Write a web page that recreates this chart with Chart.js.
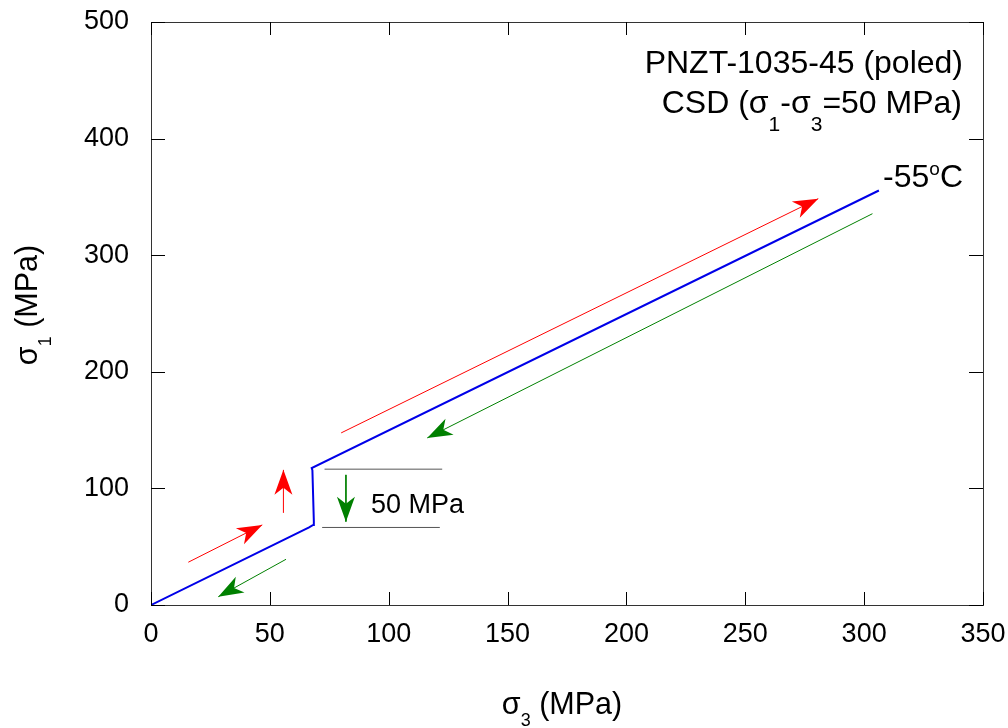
<!DOCTYPE html>
<html>
<head>
<meta charset="utf-8">
<script src="https://cdn.jsdelivr.net/npm/chart.js@4.4.1/dist/chart.umd.min.js"></script>
<style>
  html, body { margin: 0; padding: 0; background: #fff; }
  #wrap { width: 1008px; height: 728px; position: relative; }
</style>
</head>
<body>
<div id="wrap"><canvas id="plot"></canvas></div>
<script>
// stress path at -55C: sigma3 vs sigma1 (MPa)
const sigma3 = [0, 66.5, 68.2, 68.5, 67.9, 67.6, 306.2];
const sigma1 = [0, 66.5, 68.6, 72.0, 115.5, 117.5, 355.5];

const xTicks = [0, 50, 100, 150, 200, 250, 300, 350];
const yTicks = [0, 100, 200, 300, 400, 500];

// direction arrows [x0, y0, x1, y1], head sits at (x1, y1)
const loadArrows = [
  [15.7, 36.7, 46.8, 68.7],
  [80.0, 147.6, 280.7, 348.5],
  [55.7, 79.0, 55.7, 115.9]
];
const unloadArrows = [
  [56.8, 39.2, 28.3, 7.1],
  [303.5, 335.6, 116.2, 143.3],
  [82.0, 111.6, 82.0, 71.5]
];

// 50 MPa step marker lines
const stepTop = [73, 116.5, 122.5, 116.5];
const stepBottom = [72, 66.5, 121.5, 66.5];

const FONT = "'Liberation Sans', Arial, sans-serif";

function seg(a) {
  return [{ x: a[0], y: a[1] }, { x: a[2], y: a[3] }];
}

const datasets = [];
datasets.push({
  data: sigma3.map((x, i) => ({ x: x, y: sigma1[i] })),
  borderColor: '#0000e8',
  borderWidth: 2,
});
[stepTop, stepBottom].forEach(s => datasets.push({
  data: seg(s), borderColor: '#555', borderWidth: 1
}));
loadArrows.forEach(a => datasets.push({
  data: seg(a), borderColor: '#ff0000', borderWidth: 1, arrowHead: '#ff0000'
}));
unloadArrows.forEach(a => datasets.push({
  data: seg(a), borderColor: '#008000', borderWidth: 1, arrowHead: '#008000'
}));

// text runs with sub/superscripts: [text, size, dy]
function runWidth(ctx, parts) {
  let w = 0;
  parts.forEach(p => { ctx.font = p[1] + 'px ' + FONT; w += ctx.measureText(p[0]).width; });
  return w;
}
function drawRun(ctx, parts, x, y, align) {
  const w = runWidth(ctx, parts);
  let cx = align === 'right' ? x - w : align === 'center' ? x - w / 2 : x;
  ctx.textAlign = 'left';
  ctx.textBaseline = 'alphabetic';
  parts.forEach(p => {
    ctx.font = p[1] + 'px ' + FONT;
    ctx.fillText(p[0], cx, y + (p[2] || 0));
    cx += ctx.measureText(p[0]).width;
  });
}

// keep tick labels from pushing the plot frame inwards
function noEdgePad(s) {
  s.paddingTop = 0; s.paddingBottom = 0; s.paddingLeft = 0; s.paddingRight = 0;
}

const decor = {
  id: 'decor',
  afterDatasetsDraw(chart) {
    const ctx = chart.ctx;
    const a = chart.chartArea;
    const xs = chart.scales.x, ys = chart.scales.y;
    ctx.save();

    // arrow heads
    chart.data.datasets.forEach((ds, i) => {
      if (!ds.arrowHead) return;
      const pts = chart.getDatasetMeta(i).data;
      const p0 = pts[0], p1 = pts[pts.length - 1];
      const dx = p1.x - p0.x, dy = p1.y - p0.y;
      const len = Math.hypot(dx, dy);
      const ux = dx / len, uy = dy / len;
      const nx = -uy, ny = ux;
      const L = 25, W = 9, N = 18;
      ctx.fillStyle = ds.arrowHead;
      ctx.beginPath();
      ctx.moveTo(p1.x, p1.y);
      ctx.lineTo(p1.x - L * ux + W * nx, p1.y - L * uy + W * ny);
      ctx.lineTo(p1.x - N * ux, p1.y - N * uy);
      ctx.lineTo(p1.x - L * ux - W * nx, p1.y - L * uy - W * ny);
      ctx.closePath();
      ctx.fill();
    });

    // frame and inward ticks on all four sides
    ctx.strokeStyle = '#333';
    ctx.lineWidth = 1;
    ctx.strokeRect(a.left + 0.5, a.top + 0.5, a.right - a.left, a.bottom - a.top);
    ctx.strokeStyle = '#000';
    ctx.beginPath();
    xTicks.forEach(v => {
      const px = Math.round(xs.getPixelForValue(v)) + 0.5;
      ctx.moveTo(px, a.bottom); ctx.lineTo(px, a.bottom - 13);
      ctx.moveTo(px, a.top); ctx.lineTo(px, a.top + 13);
    });
    yTicks.forEach(v => {
      const py = Math.round(ys.getPixelForValue(v)) + 0.5;
      ctx.moveTo(a.left, py); ctx.lineTo(a.left + 14, py);
      ctx.moveTo(a.right, py); ctx.lineTo(a.right - 14, py);
    });
    ctx.stroke();

    // annotations
    ctx.fillStyle = '#000';
    drawRun(ctx, [['PNZT-1035-45 (poled)', 32]], 963, 73, 'right');
    drawRun(ctx, [['CSD (\u03c3', 32], ['1', 21, 18], ['-\u03c3', 32], ['3', 21, 18], ['=50 MPa)', 32]], 962, 113, 'right');
    drawRun(ctx, [['-55', 32], ['o', 19, -12], ['C', 32]], 963, 187, 'right');
    drawRun(ctx, [['50 MPa', 27]], 371, 513, 'left');

    // axis titles
    drawRun(ctx, [['\u03c3', 30.5], ['3', 18, 12], [' (MPa)', 30.5]], 562, 714, 'center');
    ctx.translate(37, 305);
    ctx.rotate(-Math.PI / 2);
    drawRun(ctx, [['\u03c3', 30.5], ['1', 18, 14], [' (MPa)', 30.5]], 0, 0, 'center');
    ctx.restore();
  }
};

new Chart(document.getElementById('plot'), {
  type: 'scatter',
  data: { datasets: datasets },
  plugins: [decor],
  options: {
    responsive: true,
    maintainAspectRatio: false,
    animation: false,
    showLine: true,
    elements: { point: { radius: 0, hoverRadius: 0 }, line: { tension: 0 } },
    layout: { padding: { top: 22, right: 25, left: 0, bottom: 0 } },
    plugins: { legend: { display: false }, tooltip: { enabled: false } },
    scales: {
      x: {
        type: 'linear', min: 0, max: 350,
        afterBuildTicks: s => { s.ticks = xTicks.map(v => ({ value: v })); },
        afterFit: s => { s.height = 123; noEdgePad(s); },
        grid: { display: false, drawTicks: false },
        border: { display: false },
        ticks: { color: '#000', padding: 13, font: { family: FONT, size: 27 } }
      },
      y: {
        type: 'linear', min: 0, max: 500,
        afterBuildTicks: s => { s.ticks = yTicks.map(v => ({ value: v })); },
        afterFit: s => { s.width = 151; noEdgePad(s); },
        grid: { display: false, drawTicks: false },
        border: { display: false },
        ticks: { color: '#000', padding: 22, font: { family: FONT, size: 27 } }
      }
    }
  }
});
</script>
</body>
</html>
